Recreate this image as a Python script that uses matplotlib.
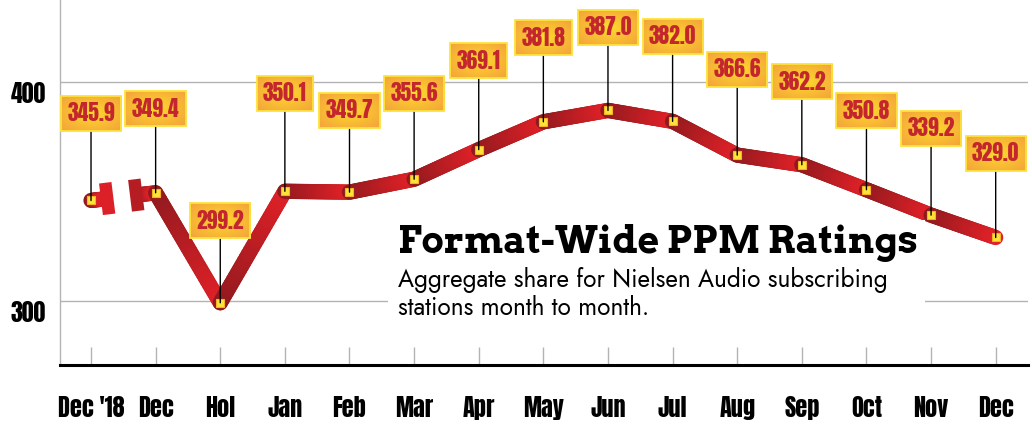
import numpy as np
import matplotlib
matplotlib.use("Agg")
import matplotlib.pyplot as plt
from matplotlib.collections import LineCollection
from matplotlib.patches import Rectangle
from matplotlib.image import BboxImage
from matplotlib.colors import LinearSegmentedColormap
from matplotlib import font_manager

# 数据
months = ["Dec '18", "Dec", "Hol", "Jan", "Feb", "Mar", "Apr", "May",
          "Jun", "Jul", "Aug", "Sep", "Oct", "Nov", "Dec"]
ratings = [345.9, 349.4, 299.2, 350.1, 349.7, 355.6, 369.1, 381.8,
           387.0, 382.0, 366.6, 362.2, 350.8, 339.2, 329.0]
y_ticks = [300, 400]

# 标签框距离数据点的高度 (像素)
label_offsets = [87, 84, 82, 98, 82, 86, 89, 84, 83, 85, 86, 83, 79, 87, 84]

installed = {f.name for f in font_manager.fontManager.ttflist}
def pick(*names):
    for n in names:
        if n in installed:
            return n
    return "DejaVu Sans"

narrow = pick("Anton", "Oswald", "Roboto Condensed", "DejaVu Sans")
slab = pick("Arvo", "Roboto Slab", "DejaVu Serif")
geo = pick("Jost", "Futura", "Lato", "DejaVu Sans")

DARK = np.array([0x8e, 0x1a, 0x1e]) / 255
BRIGHT = np.array([0xdc, 0x20, 0x27]) / 255

fig = plt.figure(figsize=(10.32, 4.24), dpi=100)
ax = fig.add_axes([60 / 1032, 1 - 365 / 424, 968 / 1032, 365 / 424])
ax.set_xlim(-0.48, 14.5)
ax.set_ylim(270.8, 437.4)

x = np.arange(len(ratings))
y = np.array(ratings)


def grad_line(x0, y0, x1, y1, t0=0.0, t1=1.0, n=30, lw=11, cap="round"):
    ts = np.linspace(t0, t1, n + 1)
    px = x0 + (x1 - x0) * ts
    py = y0 + (y1 - y0) * ts
    segs = np.stack([np.column_stack([px[:-1], py[:-1]]),
                     np.column_stack([px[1:], py[1:]])], axis=1)
    f = np.linspace(0, 1, n)[:, None]
    cols = DARK * (1 - f) + BRIGHT * f
    lc = LineCollection(segs, colors=cols, linewidths=lw, capstyle=cap, zorder=4)
    ax.add_collection(lc)


# 第一段带断开符号
grad_line(x[0], y[0], x[1], y[1], 0.0, 0.19, n=8)
grad_line(x[0], y[0], x[1], y[1], 0.74, 1.0, n=10)
for t, c in [(0.25, BRIGHT), (0.70, DARK * 0.5 + BRIGHT * 0.5)]:
    xm = x[0] + t
    ym = y[0] + (y[1] - y[0]) * t
    ax.plot([xm - 0.03, xm + 0.03], [ym + 7.2, ym - 7.2], color=c, lw=9,
            solid_capstyle="butt", zorder=4.5)

for i in range(1, len(x) - 1):
    grad_line(x[i], y[i], x[i + 1], y[i + 1])

ax.plot(x, y, ls="none", marker="s", ms=6, mfc="#fde23a", mec="#f3b324",
        mew=0.8, zorder=6)

# 标签框的径向渐变
gy, gx = np.mgrid[-1:1:40j, -1:1:60j]
rad = np.clip(np.sqrt(gx ** 2 + gy ** 2) / 1.3, 0, 1)
box_cmap = LinearSegmentedColormap.from_list("box", ["#fcdc2c", "#f9bf33", "#f4a63a"])

for i, (xi, yi) in enumerate(zip(x, y)):
    ann = ax.annotate(f"{yi:.1f}", (xi, yi), xytext=(0, label_offsets[i] * 0.72),
                      textcoords="offset points", ha="center", va="center",
                      fontsize=15.5, family=[narrow, "DejaVu Sans"],
                      color="#c4262e", zorder=7,
                      bbox=dict(boxstyle="square,pad=0.3", fc="none", ec="#fde33c", lw=1.3),
                      arrowprops=dict(arrowstyle="-", color="black", lw=1,
                                      shrinkA=0, shrinkB=0))
    patch = ann.get_bbox_patch()
    im = BboxImage(lambda r, p=patch: p.get_window_extent(r), cmap=box_cmap,
                   interpolation="bilinear", zorder=6.8)
    im.set_data(rad)
    ax.add_artist(im)

# 网格线与坐标轴
for yt in y_ticks:
    ax.axhline(yt, color="#b3b3b3", lw=1, zorder=1)
ax.set_yticks(y_ticks)
ax.set_yticklabels([str(v) for v in y_ticks], fontsize=17,
                   family=[narrow, "DejaVu Sans"])
for lab in ax.get_yticklabels():
    lab.set_verticalalignment("top")
ax.tick_params(axis="y", length=0, pad=10)

ax.set_xticks(x)
ax.set_xticklabels(months, fontsize=17.5, family=[narrow, "DejaVu Sans"])
ax.tick_params(axis="x", direction="in", length=13, width=1, color="#b3b3b3", pad=22)

for s in ["top", "right"]:
    ax.spines[s].set_visible(False)
ax.spines["left"].set_color("#b3b3b3")
ax.spines["left"].set_linewidth(1)
ax.spines["bottom"].set_color("black")
ax.spines["bottom"].set_linewidth(2.2)

# 标题文本框
fig.patches.append(Rectangle((388 / 1032, 1 - 325 / 424), 537 / 1032, 105 / 424,
                             transform=fig.transFigure, fc="white", ec="none", zorder=2))
fig.text(398 / 1032, 1 - 243 / 424, "Format-Wide PPM Ratings", family=[slab, "DejaVu Serif"],
         fontweight="bold", fontsize=26.8, va="center", ha="left", zorder=3)
fig.text(398 / 1032, 1 - 280 / 424, "Aggregate share for Nielsen Audio subscribing",
         family=[geo, "DejaVu Sans"], fontsize=17.5, va="center", ha="left", zorder=3)
fig.text(398 / 1032, 1 - 308 / 424, "stations month to month.",
         family=[geo, "DejaVu Sans"], fontsize=17.5, va="center", ha="left", zorder=3)

fig.canvas.draw()
fig.savefig("out.png", dpi=100)
